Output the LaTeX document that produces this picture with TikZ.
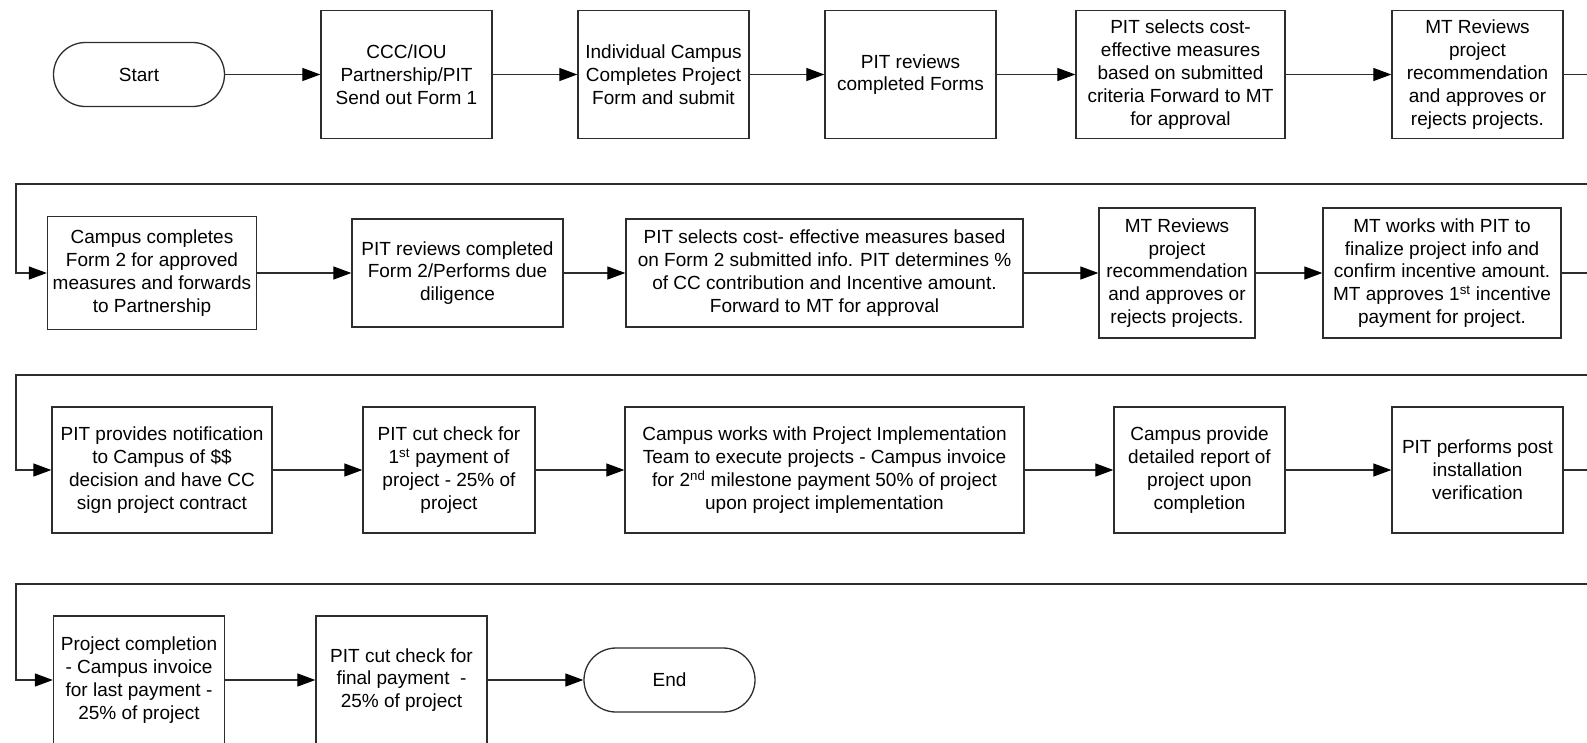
\documentclass[tikz,border=0pt]{standalone}
\usepackage{fontspec}
\setmainfont{Liberation Sans}
\usepackage{tikz}
\usetikzlibrary{arrows.meta}
\usetikzlibrary{positioning}
\definecolor{lineclr}{RGB}{45, 45, 45}
\tikzset{
  procbox/.style={draw=lineclr, line width=1.3pt, fill=white, align=center, inner sep=2pt,
                  minimum width=171pt, minimum height=128pt,
                  font=\fontsize{19}{22.8}\selectfont},
  termbox/.style={procbox, rounded corners=32pt, minimum height=64pt},
  flow/.style={draw=lineclr, line width=1.2pt, -{Triangle[length=18pt, width=13pt, fill=black, color=black]}},
}

\begin{document}
\begin{tikzpicture}[x=1pt, y=-1pt]
            % Frame and clipping to ensure alignment:
            \path[use as bounding box, clip] (0,0) rectangle (1587,742);
            \coordinate (rightedge) at (1600,0);
            \coordinate (leftedge)  at (16,0);
            % Row 1
            \node[termbox] (start)   at ( 139.0, 74.5) {Start};
            \node[procbox] (sendform) at ( 406.5, 74.5) {CCC/IOU\\Partnership/PIT\\Send out Form 1};
            \node[procbox] (submit)  at ( 663.5, 74.5) {Individual Campus\\Completes Project\\Form and submit};
            \node[procbox] (review)  at ( 910.5, 74.5) {PIT reviews\\completed Forms};
            \node[procbox, minimum width=209pt] (select)  at (1180.5, 74.5) {PIT selects cost-\\effective measures\\based on submitted\\criteria Forward to MT\\for approval};
            \node[procbox] (mtreview) at (1477.5, 74.5) {MT Reviews\\project\\recommendation\\and approves or\\rejects projects.};
            % Row 2
            \node[procbox, minimum width=209pt, minimum height=113pt] (formtwo) at ( 152.0, 273) {Campus completes\\Form 2 for approved\\measures and forwards\\to Partnership};
            \node[procbox, minimum width=211pt, minimum height=108pt] (diligence) at ( 457.5, 273) {PIT reviews completed\\Form 2/Performs due\\diligence};
            \node[procbox, minimum width=397pt, minimum height=108pt] (incentive) at ( 824.5, 273) {PIT selects cost- effective measures based\\on Form 2 submitted info. PIT determines \%\\of CC contribution and Incentive amount.\\Forward to MT for approval};
            \node[procbox, minimum width=156pt, minimum height=130pt] (mtreviewtwo) at (1177.0, 273) {MT Reviews\\project\\recommendation\\and approves or\\rejects projects.};
            \node[procbox, minimum width=238pt, minimum height=130pt] (finalize) at (1442.0, 273) {MT works with PIT to\\finalize project info and\\confirm incentive amount.\\MT approves 1\textsuperscript{st} incentive\\payment for project.};
            % Row 3
            \node[procbox, minimum width=220pt, minimum height=126pt] (notify) at ( 162.0, 470) {PIT provides notification\\to Campus of \$\$\\decision and have CC\\sign project contract};
            \node[procbox, minimum width=172pt, minimum height=126pt] (firstpay) at ( 449.0, 470) {PIT cut check for\\1\textsuperscript{st} payment of\\project - 25\% of\\project};
            \node[procbox, minimum width=399pt, minimum height=126pt] (execute) at ( 824.5, 470) {Campus works with Project Implementation\\Team to execute projects - Campus invoice\\for 2\textsuperscript{nd} milestone payment 50\% of project\\upon project implementation};
            \node[procbox, minimum height=126pt] (report) at (1199.5, 470) {Campus provide\\detailed report of\\project upon\\completion};
            \node[procbox, minimum height=126pt] (verify) at (1477.5, 470) {PIT performs post\\installation\\verification};
            % Row 4
            \node[procbox] (lastinvoice) at ( 139.0, 680) {Project completion\\- Campus invoice\\for last payment -\\25\% of project};
            \node[procbox] (finalpay)    at ( 401.5, 680) {PIT cut check for\\final payment~~-\\25\% of project};
            \node[termbox] (end)         at ( 669.5, 680) {End};
            % Connectors
            \draw[flow] (start) -- (sendform);
            \draw[flow] (sendform) -- (submit);
            \draw[flow] (submit) -- (review);
            \draw[flow] (review) -- (select);
            \draw[flow] (select) -- (mtreview);
            \draw[flow] (mtreview.east) -- (mtreview.east -| rightedge) |- (16,184) |- (formtwo.west);
            \draw[flow] (formtwo) -- (diligence);
            \draw[flow] (diligence) -- (incentive);
            \draw[flow] (incentive) -- (mtreviewtwo);
            \draw[flow] (mtreviewtwo) -- (finalize);
            \draw[flow] (finalize.east) -- (finalize.east -| rightedge) |- (16,375) |- (notify.west);
            \draw[flow] (notify) -- (firstpay);
            \draw[flow] (firstpay) -- (execute);
            \draw[flow] (execute) -- (report);
            \draw[flow] (report) -- (verify);
            \draw[flow] (verify.east) -- (verify.east -| rightedge) |- (16,584) |- (lastinvoice.west);
            \draw[flow] (lastinvoice) -- (finalpay);
            \draw[flow] (finalpay) -- (end);
\end{tikzpicture}
\end{document}
